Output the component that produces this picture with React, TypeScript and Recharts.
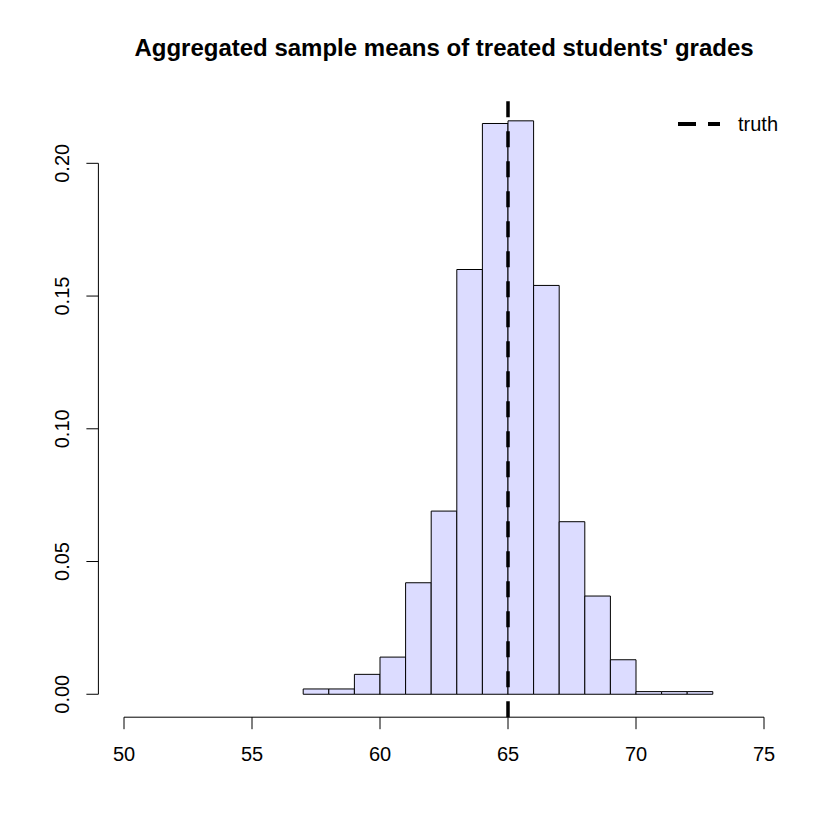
import React from "react";
import {
	ComposedChart,
	XAxis,
	YAxis,
	ReferenceArea,
	ReferenceLine,
	Scatter,
} from "recharts";

// histogram bins (left edge, width 1) and their densities
const binStarts = [57, 58, 59, 60, 61, 62, 63, 64, 65, 66, 67, 68, 69, 70, 71, 72];
const densities = [
	0.002, 0.002, 0.0075, 0.014, 0.042, 0.069, 0.16, 0.215, 0.216, 0.154, 0.065,
	0.037, 0.013, 0.001, 0.001, 0.001,
];
const binWidth = 1;
const truth = 65;

const xTicks = [50, 55, 60, 65, 70, 75];
const yTicks = [0, 0.05, 0.1, 0.15, 0.2];

// R style 4% padding around the data ranges
const xDomain = [49, 76];
const yDomain = [-0.00864, 0.22464];

const data = binStarts.map((start, i) => ({
	mid: start + binWidth / 2,
	density: densities[i],
}));

const FONT = "'Liberation Sans', Arial, sans-serif";

const YTick = (props: any) => {
	const { x, y, payload } = props;
	return (
		<text
			x={x}
			y={y}
			transform={`rotate(-90, ${x}, ${y})`}
			textAnchor="middle"
			fontSize={20}
			fontFamily={FONT}
			fill="#000"
		>
			{payload.value.toFixed(2)}
		</text>
	);
};

export default function App() {
	return (
		<div style={{ position: "absolute", left: 0, top: 0, width: 840, height: 840, background: "#fff" }}>
			<ComposedChart
				width={840}
				height={840}
				data={data}
				margin={{ top: 97.9, right: 50.4, left: 0, bottom: 0 }}
			>
				<XAxis
					dataKey="mid"
					type="number"
					domain={xDomain}
					ticks={xTicks}
					allowDataOverflow
					axisLine={false}
					tickLine={{ stroke: "#000" }}
					tickSize={12}
					tickMargin={18}
					height={122.8}
					tick={{ fill: "#000", fontSize: 20, fontFamily: FONT }}
				/>
				<YAxis
					type="number"
					domain={yDomain}
					ticks={yTicks}
					allowDataOverflow
					axisLine={false}
					tickLine={{ stroke: "#000" }}
					tickSize={12}
					tickMargin={17.4}
					width={98.4}
					tick={<YTick />}
				/>
				{binStarts.map((start, i) => (
					<ReferenceArea
						key={start}
						x1={start}
						x2={start + binWidth}
						y1={0}
						y2={densities[i]}
						fill="#dcdcff"
						fillOpacity={1}
						stroke="#000"
						strokeWidth={1}
					/>
				))}
				<ReferenceLine
					segment={[
						{ x: xTicks[0], y: yDomain[0] },
						{ x: xTicks[xTicks.length - 1], y: yDomain[0] },
					]}
					stroke="#000"
					strokeWidth={1}
				/>
				<ReferenceLine
					segment={[
						{ x: xDomain[0], y: yTicks[0] },
						{ x: xDomain[0], y: yTicks[yTicks.length - 1] },
					]}
					stroke="#000"
					strokeWidth={1}
				/>
				<ReferenceLine x={truth} stroke="#000" strokeWidth={3.5} strokeDasharray="16 14" />
				<Scatter dataKey="density" fill="none" shape={() => null} isAnimationActive={false} legendType="none" />
			</ComposedChart>
			<div
				style={{
					position: "absolute",
					left: 0,
					width: 888,
					top: 34,
					textAlign: "center",
					fontFamily: FONT,
					fontWeight: "bold",
					fontSize: 24,
				}}
			>
				Aggregated sample means of treated students' grades
			</div>
			<div
				style={{
					position: "absolute",
					left: 674,
					top: 112,
					display: "flex",
					alignItems: "center",
					fontFamily: FONT,
					fontSize: 20,
				}}
			>
				<svg width={50} height={24}>
					<line x1={4} y1={12} x2={46} y2={12} stroke="#000" strokeWidth={4} strokeDasharray="18 12" />
				</svg>
				<span style={{ marginLeft: 14 }}>truth</span>
			</div>
		</div>
	);
}
